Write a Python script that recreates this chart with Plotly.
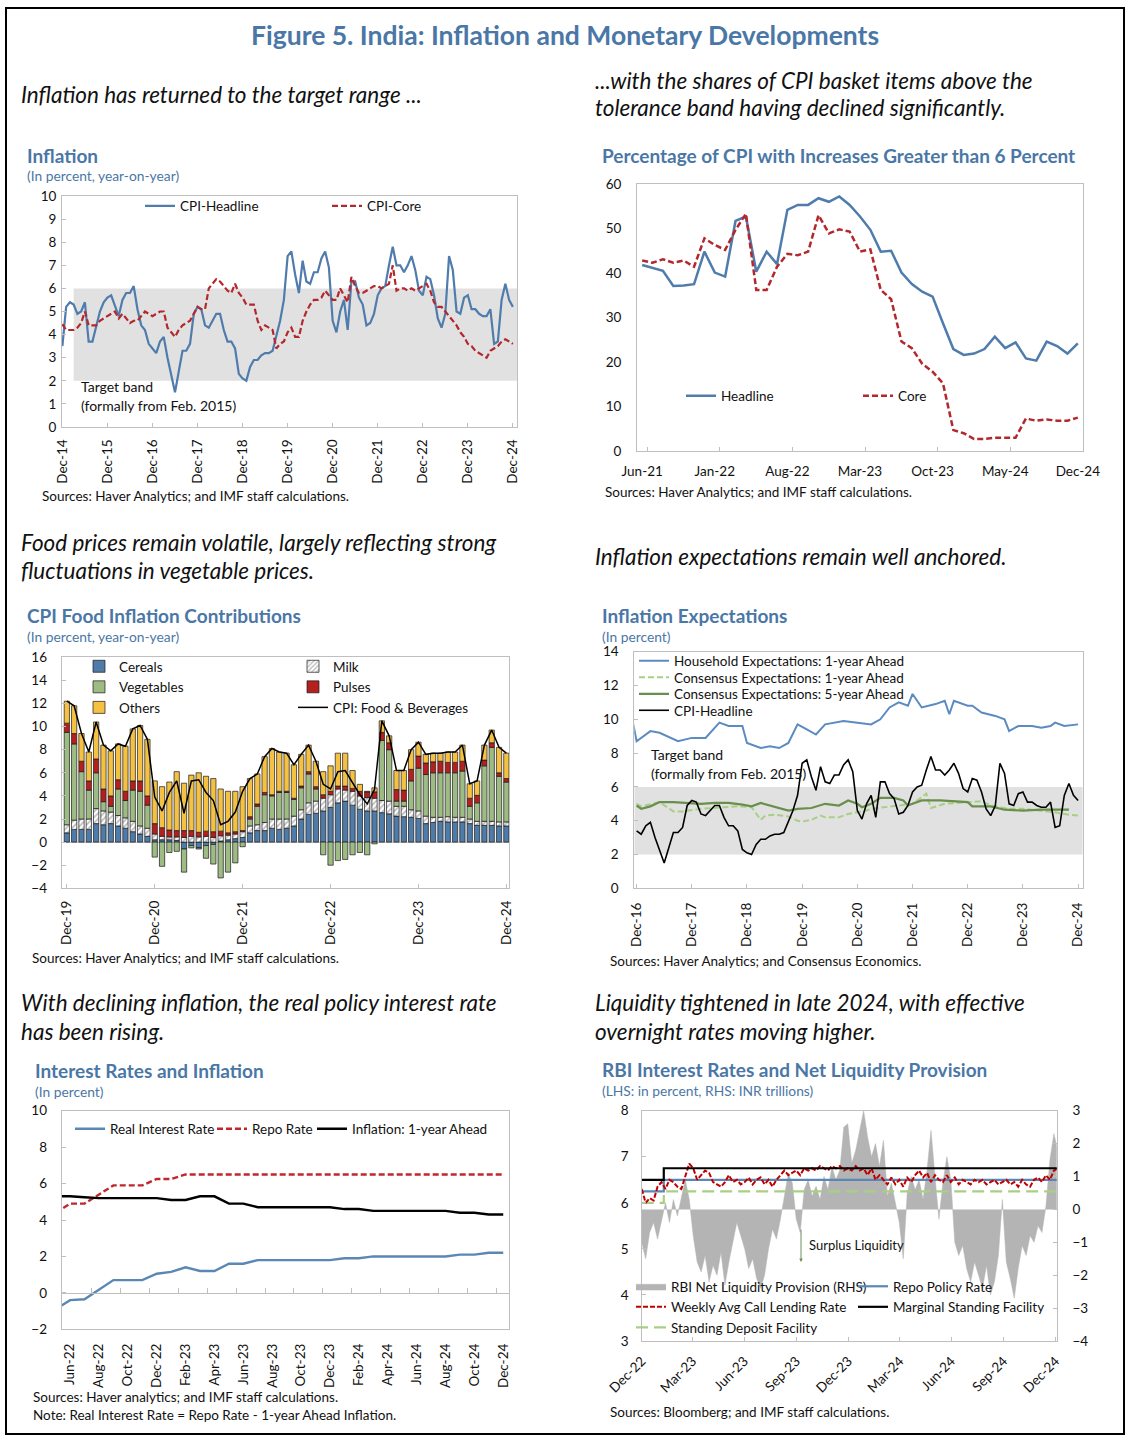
import plotly.graph_objects as go
import pandas as pd

W, H = 1130, 1444
FONT = "Lato"
TITLE_BLUE = "#4A77A6"
TXT = "#111111"
FRAME = "#BFBFBF"
BAND = "#E1E1E1"
BLUE = "#4F7CAC"
RED = "#B3282D"


def X(p):
    return p / W


def Y(p):
    return 1 - p / H


# ---------------- Panel 1: Inflation ----------------
p1_months = pd.date_range("2014-12-01", "2024-12-01", freq="MS").strftime("%b-%y").tolist()
p1_headline = [
    3.5,
    5.2, 5.4, 5.3, 4.9, 5.0, 5.4, 3.7, 3.7, 4.4, 5.0, 5.4, 5.6,
    5.7, 5.2, 4.8, 5.5, 5.8, 5.8, 6.1, 5.1, 4.4, 4.2, 3.6, 3.4,
    3.2, 3.7, 3.9, 3.0, 2.2, 1.5, 2.4, 3.3, 3.3, 3.6, 4.9, 5.2,
    5.1, 4.4, 4.3, 4.6, 4.9, 4.9, 4.2, 3.7, 3.7, 3.4, 2.3, 2.1,
    2.0, 2.6, 2.9, 2.9, 3.1, 3.2, 3.2, 3.3, 4.0, 4.6, 5.5, 7.4,
    7.6, 6.6, 5.8, 7.2, 6.3, 6.2, 6.7, 6.7, 7.3, 7.6, 6.9, 4.6,
    4.1, 5.0, 5.5, 4.2, 6.3, 6.3, 5.6, 5.3, 4.4, 4.5, 4.9, 5.7,
    6.0, 6.1, 7.0, 7.8, 7.0, 7.0, 6.7, 7.0, 7.4, 6.8, 5.9, 5.7,
    6.5, 6.4, 5.7, 4.7, 4.3, 4.9, 7.4, 6.8, 5.0, 4.9, 5.6, 5.7,
    5.1, 5.1, 4.9, 4.8, 4.8, 5.1, 3.6, 3.7, 5.5, 6.2, 5.5, 5.2]
p1_core = [
    4.45,
    4.2, 4.2, 4.2, 4.3, 4.5, 5.0, 4.4, 4.4, 4.4, 4.6, 4.7, 4.8,
    4.9, 5.0, 4.7, 4.9, 4.7, 4.5, 4.6, 4.6, 4.8, 5.0, 4.9, 4.8,
    4.9, 5.0, 5.0, 4.3, 4.1, 3.9, 4.2, 4.4, 4.5, 4.6, 4.9, 5.2,
    5.1, 5.1, 6.0, 6.2, 6.4, 6.3, 6.1, 5.9, 5.8, 6.2, 5.8, 5.6,
    5.3, 5.3, 5.3, 4.6, 4.2, 4.4, 4.3, 4.2, 3.4, 3.6, 3.7, 4.1,
    4.3, 3.9, 3.9, 4.6, 5.0, 5.3, 5.5, 5.5, 5.6, 5.9, 5.7, 5.5,
    5.5, 6.0, 5.7, 5.4, 6.5, 6.1, 5.8, 5.8, 5.9, 6.0, 6.1, 6.1,
    6.0, 6.1, 6.2, 7.0, 5.9, 6.0, 6.0, 5.9, 6.0, 5.9, 6.0, 6.1,
    6.2, 5.9, 5.4, 5.2, 5.2, 5.0, 4.8, 4.6, 4.4, 4.1, 3.9, 3.6,
    3.5, 3.3, 3.2, 3.1, 3.0, 3.3, 3.4, 3.5, 3.7, 3.8, 3.7, 3.6]
TARGET_LOW, TARGET_HIGH = 2, 6
p1_band_start = "Mar-15"

# ---------------- Panel 2: share of CPI > 6% ----------------
p2_months = pd.date_range("2021-06-01", "2024-12-01", freq="MS").strftime("%b-%y").tolist()
p2_headline = [41.8, 41.2, 40.5, 37.1, 37.2, 37.5, 44.8, 40.1, 39.2, 51.7, 52.7, 40.3, 44.8,
               42.0, 54.2, 55.3, 55.3, 56.8, 56.0, 57.2, 55.3, 52.7, 49.7, 44.8, 45.0, 40.1,
               37.5, 35.8, 34.7, 28.7, 22.9, 21.6, 21.9, 22.9, 25.7, 23.1, 24.4, 20.8, 20.3,
               24.6, 23.6, 21.9, 24.2]
p2_core = [42.8, 42.3, 43.1, 42.3, 42.8, 41.4, 47.8, 46.3, 45.2, 49.7, 53.3, 36.2, 36.2,
           41.4, 44.3, 44.0, 44.8, 53.0, 48.9, 49.8, 49.3, 44.8, 45.3, 36.2, 34.1, 24.6,
           23.1, 19.6, 17.8, 15.2, 4.7, 4.0, 2.7, 2.7, 3.0, 3.0, 3.0, 7.3, 6.8, 7.1, 6.8,
           6.8, 7.5]

# ---------------- Panel 3: food contributions ----------------
p3_months = pd.date_range("2019-12-01", "2024-12-01", freq="MS").strftime("%b-%y").tolist()
p3_cereals = [0.8, 1.1, 1.1, 1.1, 1.6, 1.5, 1.6, 1.4, 1.2, 0.9, 0.7, 0.5,
              0.2, 0.2, 0.2, 0.15, -0.6, -0.3, -0.5, -0.3, -0.2, 0.1, 0.2, 0.3, 0.4,
              0.8, 1.0, 1.0, 1.2, 1.1, 1.2,
              1.4, 2.0, 2.4, 2.5, 2.7, 3.0, 3.4, 3.55, 3.2, 2.85, 2.7, 2.7, 2.55,
              2.45, 2.25, 2.2, 2.15, 2.05, 1.6, 1.7, 1.8, 1.75, 1.75, 1.75, 1.6, 1.45, 1.45, 1.45, 1.4, 1.4]
p3_milk = [0.7, 0.8, 0.9, 0.9, 1.3, 1.2, 1.0, 0.9, 0.9, 0.9, 0.7, 0.7,
           0.5, 0.3, 0.25, 0.3, 0.4, 0.5, 0.45, 0.5, 0.4, 0.45, 0.4, 0.4, 0.5,
           0.6, 0.5, 0.7, 0.8, 0.9, 0.8,
           0.85, 0.8, 1.0, 1.05, 1.1, 1.1, 1.2, 0.95, 1.2, 1.15, 1.15, 1.1, 1.05,
           1.1, 0.85, 0.9, 0.65, 0.65, 0.65, 0.45, 0.35, 0.45, 0.4, 0.4, 0.4, 0.35, 0.35, 0.35, 0.35, 0.35]
p3_vegetables = [8.0, 6.6, 4.1, 2.5, 3.1, 0.8, 0.5, 2.3, 1.5, 2.7, 3.0, 2.0,
                 -1.3, -2.1, -0.9, -0.8, -2.0, -0.2, -0.1, -1.1, -1.7, -3.1, -2.6, -1.8, -0.4,
                 0.6, 1.6, 2.4, 2.0, 2.3, 2.3,
                 1.45, 1.9, 2.5, 1.05, -1.1, -2.0, -1.6, -1.5, -1.1, -0.9, -1.1, -0.15, 5.2,
                 4.45, 0.45, 0.45, 2.5, 3.7, 3.6, 3.85, 3.85, 3.8, 3.85, 4.0, 1.1, 1.6, 4.8, 6.4, 3.95, 3.45]
p3_pulses = [0.8, 0.9, 0.9, 0.8, 1.2, 1.1, 0.9, 0.8, 0.8, 0.8, 0.9, 0.8,
             0.9, 0.75, 0.6, 0.55, 0.6, 0.5, 0.4, 0.45, 0.5, 0.4, 0.2, 0.2, 0.1,
             0.2, 0.2, 0.2, 0.1, 0.1, 0.1,
             0.1, 0.15, 0.2, 0.2, 0.3, 0.3, 0.25, 0.35, 0.25, 0.4, 0.5, 0.55, 0.7,
             0.6, 1.0, 0.95, 1.0, 1.05, 1.0, 0.95, 1.0, 0.9, 0.9, 0.85, 0.7, 0.65, 0.5, 0.4, 0.3, 0.3]
p3_others = [1.9, 2.4, 2.4, 2.5, 3.2, 3.8, 3.9, 3.1, 3.9, 4.5, 4.8, 4.9,
             3.7, 3.55, 4.15, 5.1, 4.1, 4.8, 5.15, 4.75, 4.6, 3.65, 3.6, 3.5, 3.8,
             3.3, 2.6, 3.1, 4.0, 3.4, 3.3,
             2.9, 2.75, 2.3, 2.2, 2.0, 2.2, 2.85, 2.85, 1.55, 0.6, 0.05, 0.35, 1.0,
             0.6, 1.65, 1.7, 1.7, 1.2, 0.75, 0.75, 0.7, 0.9, 0.9, 1.4, 1.25, 1.25, 1.3, 1.1, 2.2, 2.2]
p3_food_total = [12.2, 11.8, 9.4, 7.8, 10.4, 8.4, 7.9, 8.5, 8.3, 9.8, 10.1, 8.9,
                 3.9, 2.7, 4.3, 5.3, 2.5, 5.3, 5.4, 4.3, 3.6, 1.5, 1.8, 2.6, 4.4,
                 5.5, 5.9, 7.4, 8.1, 7.8, 7.7,
                 6.7, 7.6, 8.4, 7.0, 5.0, 4.6, 6.1, 6.2, 5.1, 4.1, 3.3, 4.55, 10.5,
                 9.2, 6.2, 6.2, 8.0, 8.65, 7.6, 7.7, 7.7, 7.8, 7.8, 8.4, 5.05, 5.3, 8.4, 9.7, 8.2, 7.7]

# ---------------- Panel 4: expectations ----------------
p4_months = pd.date_range("2016-12-01", "2024-12-01", freq="MS").strftime("%b-%y").tolist()
p4_household_idx = [-1, 0, 3, 5, 9, 12, 15, 18, 20, 23, 24, 27, 29, 31, 33, 35, 37, 39, 41, 45,
                    48, 51, 53, 55, 57, 59, 60, 62, 65, 67, 68, 69, 72, 73, 75, 78, 80, 81, 83, 86,
                    88, 90, 91, 93, 96]
p4_household = [10.1, 8.7, 9.3, 9.2, 8.7, 8.9, 8.9, 9.8, 9.6, 9.6, 8.6, 8.3, 8.4, 8.3, 8.6, 9.7,
                9.4, 9.1, 9.7, 9.9, 9.8, 9.7, 10.0, 10.7, 11.0, 10.8, 11.5, 10.7, 10.9, 11.1, 10.3,
                11.1, 10.8, 10.8, 10.4, 10.2, 10.0, 9.3, 9.6, 9.6, 9.5, 9.6, 9.8, 9.6, 9.7]
p4_cons1_idx = [0, 1, 5, 8, 10, 14, 19, 22, 25, 26, 27, 28, 30, 33, 35, 36, 38, 40, 41, 44, 46,
                48, 50, 51, 54, 56, 58, 60, 63, 64, 67, 70, 72, 75, 77, 79, 81, 84, 88, 91, 94, 96]
p4_cons1 = [5.0, 4.85, 5.1, 4.55, 4.55, 4.7, 4.8, 4.85, 4.8, 4.45, 4.05, 4.3, 4.35, 4.25, 4.0,
            3.95, 4.05, 4.3, 4.2, 4.2, 4.4, 4.5, 4.6, 4.7, 4.8, 4.85, 4.9, 5.0, 5.6, 4.75, 5.0,
            5.05, 5.1, 5.15, 4.9, 4.8, 4.7, 4.7, 4.6, 4.5, 4.35, 4.3]
p4_cons5_idx = [0, 1, 3, 5, 8, 11, 14, 17, 20, 23, 25, 27, 29, 31, 33, 35, 38, 41, 44, 46, 48,
                49, 51, 53, 56, 58, 59, 60, 62, 66, 70, 72, 73, 77, 80, 84, 88, 91, 94]
p4_cons5 = [4.9, 4.7, 4.85, 5.1, 5.1, 5.05, 5.0, 5.05, 5.05, 4.95, 4.85, 5.05, 4.9, 4.75, 4.6,
            4.7, 4.75, 5.0, 4.9, 5.2, 5.0, 4.8, 5.0, 5.35, 5.35, 5.2, 4.9, 5.0, 5.2, 5.2, 5.15,
            5.1, 4.85, 4.85, 4.65, 4.6, 4.65, 4.65, 4.65]
p4_cpi = p1_headline[p1_months.index("Dec-16"):]

# ---------------- Panel 5: interest rates ----------------
p5_months = pd.date_range("2022-05-01", "2024-12-01", freq="MS").strftime("%b-%y").tolist()
p5_real = [-0.9, -0.4, -0.35, 0.2, 0.7, 0.7, 0.7, 1.05, 1.15, 1.4, 1.2, 1.2, 1.6, 1.6, 1.8, 1.8,
           1.8, 1.8, 1.8, 1.8, 1.9, 1.9, 2.0, 2.0, 2.0, 2.0, 2.0, 2.0, 2.1, 2.1, 2.2, 2.2]
p5_repo = [4.4, 4.9, 4.9, 5.4, 5.9, 5.9, 5.9, 6.25, 6.25, 6.5, 6.5, 6.5, 6.5, 6.5, 6.5, 6.5,
           6.5, 6.5, 6.5, 6.5, 6.5, 6.5, 6.5, 6.5, 6.5, 6.5, 6.5, 6.5, 6.5, 6.5, 6.5, 6.5]
p5_infl = [5.3, 5.3, 5.25, 5.2, 5.2, 5.2, 5.2, 5.2, 5.1, 5.1, 5.3, 5.3, 4.9, 4.9, 4.7, 4.7,
           4.7, 4.7, 4.7, 4.7, 4.6, 4.6, 4.5, 4.5, 4.5, 4.5, 4.5, 4.5, 4.4, 4.4, 4.3, 4.3]

# ---------------- Panel 6: RBI rates & liquidity ----------------
p6_weeks = pd.date_range("2022-12-31", periods=106, freq="7D")
p6_liquidity = [-1.0, -1.5, -0.7, -0.4, -0.9, -0.3, 0.2, -0.4, 0.3, -0.2,
                0.4, 0.9, 0.3, -0.8, -1.6, -1.9, -1.4, -2.2, -1.7, -2.0,
                -1.3, -2.3, -1.6, -1.0, -0.4, -0.8, -1.2, -1.8, -1.5, -2.1,
                -2.4, -2.0, -1.2, -0.6, -0.9, -0.3, 0.4, 1.1, 0.8, -0.3,
                -0.7, 0.6, 0.9, 0.4, 0.7, 0.3, 1.0, 0.6, 1.3, 0.9,
                1.2, 2.5, 2.6, 1.4, 1.8, 2.4, 3.0, 2.2, 1.6, 2.0,
                1.3, 2.1, 0.4, 0.8, 0.2, -0.4, -1.5, 0.5, 1.0, 0.6,
                0.9, 0.3, 1.2, 2.4, 1.0, -0.3, 0.8, 1.6, 0.9, -1.0,
                -1.4, -1.1, -1.8, -2.2, -1.6, -2.0, -2.4, -1.7, -2.6, -2.2,
                -1.4, 0.3, -1.6, -2.1, -2.7, -1.8, -1.1, -1.4, -0.8, -1.0,
                -0.5, -0.7, 0.1, 1.5, 2.3, 1.8]
p6_callrate = [6.3, 6.0, 6.1, 6.05, 6.35, 6.45, 6.3, 6.5, 6.45, 6.35,
               6.3, 6.55, 6.85, 6.75, 6.5, 6.6, 6.7, 6.65, 6.45, 6.4,
               6.35, 6.45, 6.6, 6.45, 6.5, 6.4, 6.45, 6.55, 6.4, 6.5,
               6.55, 6.4, 6.5, 6.35, 6.5, 6.6, 6.7, 6.6, 6.65, 6.7,
               6.6, 6.75, 6.7, 6.75, 6.7, 6.8, 6.75, 6.7, 6.8, 6.75,
               6.8, 6.7, 6.75, 6.7, 6.8, 6.7, 6.75, 6.6, 6.75, 6.5,
               6.6, 6.5, 6.4, 6.55, 6.4, 6.5, 6.35, 6.55, 6.45, 6.6,
               6.7, 6.55, 6.65, 6.45, 6.6, 6.5, 6.45, 6.6, 6.45, 6.55,
               6.4, 6.5, 6.45, 6.4, 6.5, 6.45, 6.5, 6.4, 6.45, 6.5,
               6.4, 6.45, 6.5, 6.4, 6.45, 6.35, 6.5, 6.4, 6.35, 6.5,
               6.55, 6.45, 6.6, 6.5, 6.7, 6.75]
p6_policy_dates = ["2022-12-31", "2023-02-08", "2025-01-06"]
p6_repo = [6.25, 6.5, 6.5]
p6_msf = [6.5, 6.75, 6.75]
p6_sdf = [6.0, 6.25, 6.25]
p6_tick_dates = ["2022-12-31", "2023-03-31", "2023-06-30", "2023-09-30", "2023-12-31",
                 "2024-03-31", "2024-06-30", "2024-09-30", "2024-12-31"]
p6_tick_labels = ["Dec-22", "Mar-23", "Jun-23", "Sep-23", "Dec-23", "Mar-24", "Jun-24", "Sep-24", "Dec-24"]

# ================= figure =================
fig = go.Figure()

# Panel 1
x1 = list(range(len(p1_months)))
fig.add_trace(go.Scatter(x=x1, y=p1_headline, mode="lines", name="CPI-Headline",
                         line=dict(color=BLUE, width=2.2), xaxis="x", yaxis="y", legend="legend"))
fig.add_trace(go.Scatter(x=x1, y=p1_core, mode="lines", name="CPI-Core",
                         line=dict(color=RED, width=2.2, dash="6px,3px"), xaxis="x", yaxis="y", legend="legend2"))

# Panel 2
x2 = list(range(len(p2_months)))
fig.add_trace(go.Scatter(x=x2, y=p2_headline, mode="lines", name="Headline",
                         line=dict(color=BLUE, width=2.5), xaxis="x2", yaxis="y2", legend="legend3"))
fig.add_trace(go.Scatter(x=x2, y=p2_core, mode="lines", name="Core",
                         line=dict(color=RED, width=2.5, dash="6px,3px"), xaxis="x2", yaxis="y2", legend="legend4"))

# Panel 3
x3 = list(range(len(p3_months)))
bar_line = dict(color="#1a1a1a", width=0.7)
bars = [
    ("Cereals", p3_cereals, dict(color="#4F7BA8", line=bar_line), "legend5"),
    ("Milk", p3_milk, dict(color="white", line=bar_line,
                           pattern=dict(shape="/", fgcolor="#7a7a7a", bgcolor="white", size=4, solidity=0.45)),
     "legend6"),
    ("Vegetables", p3_vegetables, dict(color="#9DBB83", line=bar_line), "legend5"),
    ("Pulses", p3_pulses, dict(color="#B4201E", line=bar_line), "legend6"),
    ("Others", p3_others, dict(color="#F4C143", line=bar_line), "legend5"),
]
for name, vals, mk, lg in bars:
    fig.add_trace(go.Bar(x=x3, y=vals, name=name, marker=mk, width=0.72,
                         xaxis="x3", yaxis="y3", legend=lg))
fig.add_trace(go.Scatter(x=x3, y=p3_food_total, mode="lines", name="CPI: Food & Beverages",
                         line=dict(color="black", width=1.5), xaxis="x3", yaxis="y3", legend="legend6"))

# Panel 4 (one legend per row for tight row spacing)
fig.add_trace(go.Scatter(x=p4_household_idx, y=p4_household, mode="lines",
                         name="Household Expectations: 1-year Ahead",
                         line=dict(color="#5B8BC0", width=2), xaxis="x4", yaxis="y4", legend="legend7"))
fig.add_trace(go.Scatter(x=p4_cons1_idx, y=p4_cons1, mode="lines",
                         name="Consensus Expectations: 1-year Ahead",
                         line=dict(color="#A8CF84", width=2, dash="6px,3px"), xaxis="x4", yaxis="y4",
                         legend="legend13"))
fig.add_trace(go.Scatter(x=p4_cons5_idx, y=p4_cons5, mode="lines",
                         name="Consensus Expectations: 5-year Ahead",
                         line=dict(color="#6A8F4C", width=2.2), xaxis="x4", yaxis="y4", legend="legend14"))
fig.add_trace(go.Scatter(x=list(range(len(p4_cpi))), y=p4_cpi, mode="lines", name="CPI-Headline",
                         line=dict(color="black", width=1.6), xaxis="x4", yaxis="y4", legend="legend15"))

# Panel 5  (index 0 = May-22)
x5 = list(range(len(p5_months)))
fig.add_trace(go.Scatter(x=x5, y=p5_real, mode="lines", name="Real Interest Rate",
                         line=dict(color="#5B87B5", width=2.4), xaxis="x7", yaxis="y5", legend="legend8"))
fig.add_trace(go.Scatter(x=x5, y=p5_repo, mode="lines", name="Repo Rate",
                         line=dict(color="#C0272D", width=2.4, dash="6px,3px"), xaxis="x5", yaxis="y5",
                         legend="legend9"))
fig.add_trace(go.Scatter(x=x5, y=p5_infl, mode="lines", name="Inflation: 1-year Ahead",
                         line=dict(color="black", width=2.4), xaxis="x5", yaxis="y5", legend="legend10"))

# Panel 6 (base y6 = RHS trillions, y8 = LHS percent overlay)
fig.add_trace(go.Scatter(x=p6_weeks, y=p6_liquidity, mode="lines", fill="tozeroy",
                         name="RBI Net Liquidity Provision (RHS)", fillcolor="#B4B4B4",
                         line=dict(color="#B4B4B4", width=0.5), xaxis="x6", yaxis="y6",
                         legend="legend11", legendrank=1))
fig.add_trace(go.Scatter(x=p6_policy_dates, y=p6_sdf, mode="lines", name="Standing Deposit Facility",
                         line=dict(color="#A8CF84", width=2.2, dash="12px,6px", shape="hv"),
                         xaxis="x6", yaxis="y8", legend="legend11", legendrank=3))
fig.add_trace(go.Scatter(x=p6_policy_dates, y=p6_repo, mode="lines", name="Repo Policy Rate",
                         line=dict(color="#5B87B5", width=2.2, shape="hv"),
                         xaxis="x6", yaxis="y8", legend="legend12", legendrank=1))
fig.add_trace(go.Scatter(x=p6_weeks, y=p6_callrate, mode="lines", name="Weekly Avg Call Lending Rate",
                         line=dict(color="#C00000", width=2, dash="5px,2px"),
                         xaxis="x6", yaxis="y8", legend="legend11", legendrank=2))
fig.add_trace(go.Scatter(x=p6_policy_dates, y=p6_msf, mode="lines", name="Marginal Standing Facility",
                         line=dict(color="black", width=2.2, shape="hv"),
                         xaxis="x6", yaxis="y8", legend="legend12", legendrank=2))

# ================= axes =================
TICKFONT = dict(family=FONT, size=13.5, color=TXT)


def base_axis(**kw):
    d = dict(showline=True, mirror=True, linecolor=FRAME, linewidth=1, showgrid=False,
             zeroline=False, ticks="inside", ticklen=4, tickcolor=FRAME, tickfont=TICKFONT,
             fixedrange=True, automargin=False)
    d.update(kw)
    return d


layout = dict(
    width=W, height=H, margin=dict(l=0, r=0, t=0, b=0, autoexpand=False),
    paper_bgcolor="white", plot_bgcolor="white",
    barmode="relative", showlegend=True,
    font=dict(family=FONT, size=13, color=TXT),
)

# Panel 1
layout["xaxis"] = base_axis(domain=[X(62), X(517)], anchor="y", range=[-0.1, 121.1],
                            tickmode="array", tickvals=x1[::12], ticktext=p1_months[::12],
                            tickangle=-90, ticklabelstandoff=6)
layout["yaxis"] = base_axis(domain=[Y(427), Y(196)], anchor="x", range=[0, 10], dtick=1,
                            ticklabelstandoff=2)
# Panel 2
layout["xaxis2"] = base_axis(domain=[X(637), X(1083)], anchor="y2", range=[-0.5, 42.5],
                             tickmode="array", tickvals=x2[::7], ticktext=p2_months[::7],
                             ticks="", ticklabelstandoff=8,
                             minor=dict(tickvals=[v + 0.5 for v in x2[::7][:-1]], ticks="inside",
                                        ticklen=4, tickcolor=FRAME))
layout["yaxis2"] = base_axis(domain=[Y(451), Y(184)], anchor="x2", range=[0, 60], dtick=10,
                             ticks="", ticklabelstandoff=12)
# Panel 3
layout["xaxis3"] = base_axis(domain=[X(61.7), X(509.3)], anchor="y3", range=[-0.7, 60.4],
                             tickmode="array", tickvals=x3[::12], ticktext=p3_months[::12],
                             tickangle=-90, ticklabelstandoff=6)
layout["yaxis3"] = base_axis(domain=[Y(888.3), Y(657.3)], anchor="x3", range=[-4, 16], dtick=2,
                             ticklabelstandoff=11, zeroline=True, zerolinecolor=FRAME, zerolinewidth=1)
# Panel 4
x4 = list(range(len(p4_months)))
layout["xaxis4"] = base_axis(domain=[X(634.3), X(1082.7)], anchor="y4", range=[-0.5, 97],
                             tickmode="array", tickvals=x4[::12], ticktext=p4_months[::12],
                             tickangle=-90, ticklabelstandoff=8)
layout["yaxis4"] = base_axis(domain=[Y(888.3), Y(651.7)], anchor="x4", range=[0, 14], dtick=2,
                             ticklabelstandoff=12)
# Panel 5
p5_y_rng = [-2, 10]
p5_dom = [Y(1329.3), Y(1110.7)]
zero_pos = p5_dom[0] + (0 - p5_y_rng[0]) / (p5_y_rng[1] - p5_y_rng[0]) * (p5_dom[1] - p5_dom[0])
layout["xaxis5"] = base_axis(domain=[X(61.7), X(509.3)], anchor="y5", range=[0.42, 31.42],
                             tickmode="array", tickvals=x5[1::2], ticktext=p5_months[1::2],
                             tickangle=-90, ticks="", ticklabelstandoff=8)
layout["xaxis7"] = dict(overlaying="x5", matches="x5", anchor="free", position=zero_pos,
                        domain=[X(61.7), X(509.3)], showline=True, linecolor=FRAME, linewidth=1,
                        ticks="inside", ticklen=5, tickcolor=FRAME, tickmode="array",
                        tickvals=[v + 0.5 for v in x5[2::2]], showticklabels=False,
                        showgrid=False, zeroline=False, fixedrange=True, automargin=False)
layout["yaxis5"] = base_axis(domain=p5_dom, anchor="x5", range=p5_y_rng, dtick=2,
                             ticklabelstandoff=11)
# Panel 6
layout["xaxis6"] = base_axis(domain=[X(641.7), X(1056.7)], anchor="y6", type="date",
                             range=["2022-12-31", "2025-01-02"], tickmode="array",
                             tickvals=p6_tick_dates, ticktext=p6_tick_labels, tickangle=-45,
                             ticklabelstandoff=6)
layout["yaxis6"] = base_axis(domain=[Y(1341), Y(1110.7)], anchor="x6", side="right",
                             range=[-4, 3], dtick=1, ticklabelstandoff=12)
layout["yaxis8"] = dict(overlaying="y6", anchor="x6", side="left", range=[3, 8], dtick=1,
                        showline=False, showgrid=False, zeroline=False, ticks="inside", ticklen=4,
                        tickcolor=FRAME, tickfont=TICKFONT, ticklabelstandoff=12, fixedrange=True,
                        automargin=False)

LEGFONT = 13.5


# ================= legends =================
def leg(text_x, y_px, yanchor="middle"):
    return dict(x=X(text_x - 40), y=Y(y_px), xanchor="left", yanchor=yanchor,
                bgcolor="rgba(0,0,0,0)", borderwidth=0, orientation="v", itemwidth=30,
                tracegroupgap=0, font=dict(family=FONT, size=LEGFONT, color=TXT))


layout["legend"] = leg(180, 206)
layout["legend2"] = leg(367, 206)
layout["legend3"] = leg(721, 396)
layout["legend4"] = leg(898, 396)
layout["legend5"] = leg(119, 651, "top")
layout["legend6"] = leg(333, 651, "top")
layout["legend7"] = leg(674, 661)
layout["legend13"] = leg(674, 677.5)
layout["legend14"] = leg(674, 694)
layout["legend15"] = leg(674, 710.5)
layout["legend8"] = leg(110, 1129)
layout["legend9"] = leg(252, 1129)
layout["legend10"] = leg(352, 1129)
layout["legend11"] = leg(671, 1271, "top")
layout["legend12"] = leg(893, 1271, "top")


# ================= text =================
def txt(x, y, s, size=13, color=TXT, xanchor="left"):
    return dict(x=X(x), y=Y(y), xref="paper", yref="paper", text=s, showarrow=False,
                xanchor=xanchor, yanchor="middle", font=dict(family=FONT, size=size, color=color))


HDR = 22.5
PT = 19
SUB = 13.8
SRC = 13.5
ann = [
    txt(565, 35, "<b>Figure 5. India: Inflation and Monetary Developments</b>", 26.5, TITLE_BLUE, "center"),
    # narrative headers
    txt(19, 94, "<i>Inflation has returned to the target range ...</i>", HDR),
    txt(593, 80, "<i>...with the shares of CPI basket items above the</i>", HDR),
    txt(593, 108, "<i>tolerance band having declined significantly.</i>", HDR),
    txt(19, 542, "<i>Food prices remain volatile, largely reflecting strong</i>", HDR),
    txt(19, 570, "<i>fluctuations in vegetable prices.</i>", HDR),
    txt(593, 556, "<i>Inflation expectations remain well anchored.</i>", HDR),
    txt(19, 1002, "<i>With declining inflation, the real policy interest rate</i>", HDR),
    txt(19, 1031, "<i>has been rising.</i>", HDR),
    txt(593, 1002, "<i>Liquidity tightened in late 2024, with effective</i>", HDR),
    txt(593, 1031, "<i>overnight rates moving higher.</i>", HDR),
    # panel titles
    txt(25, 155, "<b>Inflation</b>", PT, TITLE_BLUE),
    txt(25, 175, "(In percent, year-on-year)", SUB, TITLE_BLUE),
    txt(600, 155, "<b>Percentage of CPI with Increases Greater than 6 Percent</b>", PT, TITLE_BLUE),
    txt(25, 615, "<b>CPI Food Inflation Contributions</b>", PT, TITLE_BLUE),
    txt(25, 636, "(In percent, year-on-year)", SUB, TITLE_BLUE),
    txt(600, 615, "<b>Inflation Expectations</b>", PT, TITLE_BLUE),
    txt(600, 636, "(In percent)", SUB, TITLE_BLUE),
    txt(33, 1070, "<b>Interest Rates and Inflation</b>", PT, TITLE_BLUE),
    txt(33, 1091, "(In percent)", SUB, TITLE_BLUE),
    txt(600, 1069, "<b>RBI Interest Rates and Net Liquidity Provision</b>", PT, TITLE_BLUE),
    txt(600, 1090, "(LHS: in percent, RHS: INR trillions)", SUB, TITLE_BLUE),
    # sources
    txt(40, 496, "Sources: Haver Analytics; and IMF staff calculations.", SRC),
    txt(603, 492, "Sources: Haver Analytics; and IMF staff calculations.", SRC),
    txt(30, 958, "Sources: Haver Analytics; and IMF staff calculations.", SRC),
    txt(608, 961, "Sources: Haver Analytics; and Consensus Economics.", SRC),
    txt(31, 1397, "Sources: Haver analytics; and IMF staff calculations.", SRC),
    txt(31, 1415, "Note: Real Interest Rate = Repo Rate - 1-year Ahead Inflation.", SRC),
    txt(608, 1412, "Sources: Bloomberg; and IMF staff calculations.", SRC),
    # in-plot notes
    txt(79, 387, "Target band", 14),
    txt(79, 406, "(formally from Feb. 2015)", 14),
    txt(649, 755, "Target band", 14),
    txt(649, 773, "(formally from Feb. 2015)", 14),
    txt(807, 1245, "Surplus Liquidity", 13),
    dict(x=X(801), y=Y(1262), xref="paper", yref="paper", text="", showarrow=True,
         ax=0, ay=-34, arrowhead=2, arrowsize=0.7, arrowwidth=1, arrowcolor="#6F8F5F"),
]
layout["annotations"] = ann

shapes = [
    dict(type="rect", xref="paper", yref="paper", x0=X(6), x1=X(1124), y0=Y(1434), y1=Y(8),
         line=dict(color="black", width=2), fillcolor="rgba(0,0,0,0)"),
    dict(type="rect", xref="x", yref="y", x0=p1_months.index(p1_band_start), x1=121.1,
         y0=TARGET_LOW, y1=TARGET_HIGH, fillcolor=BAND, line=dict(width=0), layer="below"),
    dict(type="rect", xref="x4", yref="y4", x0=-0.5, x1=97, y0=TARGET_LOW, y1=TARGET_HIGH,
         fillcolor=BAND, line=dict(width=0), layer="below"),
]
layout["shapes"] = shapes

fig.update_layout(**layout)
fig.write_html(
    "out.html",
    config={"displayModeBar": False},
    post_script="document.body.style.margin='0';document.body.style.overflow='hidden';",
)
